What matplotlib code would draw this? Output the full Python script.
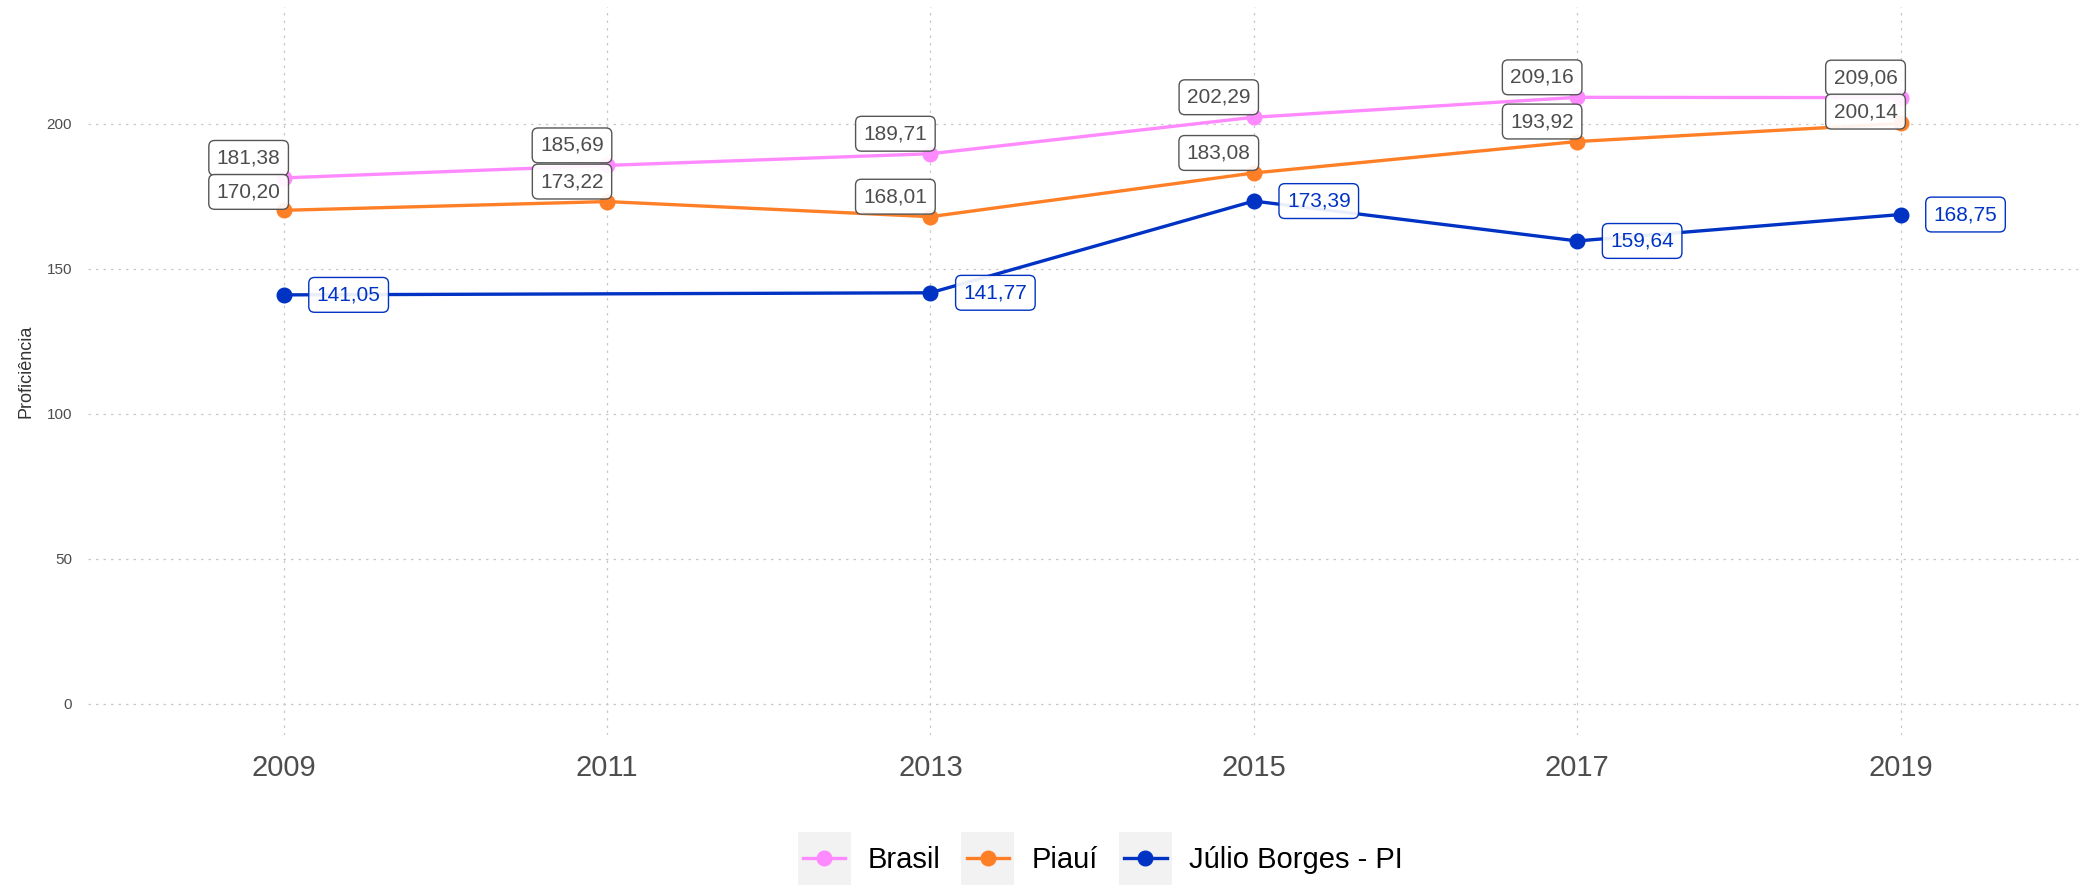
import numpy as np
import matplotlib.pyplot as plt
from matplotlib.legend_handler import HandlerBase
from matplotlib.patches import Rectangle
from matplotlib.lines import Line2D

plt.rcParams['font.family'] = ['Liberation Sans', 'DejaVu Sans']

# dados
anos = [2009, 2011, 2013, 2015, 2017, 2019]
brasil = [181.38, 185.69, 189.71, 202.29, 209.16, 209.06]
piaui = [170.20, 173.22, 168.01, 183.08, 193.92, 200.14]
anos_julio = [2009, 2013, 2015, 2017, 2019]
julio = [141.05, 141.77, 173.39, 159.64, 168.75]

cor_brasil = '#ff8aff'
cor_piaui = '#ff7f27'
cor_julio = '#0033c4'
cinza = '#4d4d4d'


def fmt(v):
    return f'{v:.2f}'.replace('.', ',')


class KeyHandler(HandlerBase):
    # caixa cinza atras da linha + ponto, estilo ggplot
    def create_artists(self, legend, orig_handle, xdescent, ydescent,
                       width, height, fontsize, trans):
        cx = width / 2 - xdescent
        cy = height / 2 - ydescent
        side = width
        rect = Rectangle((cx - side / 2, cy - side / 2), side, side,
                         fc='#f2f2f2', ec='none', transform=trans)
        line = Line2D([cx - side * 0.4, cx + side * 0.4], [cy, cy],
                      color=orig_handle.get_color(), lw=orig_handle.get_linewidth(),
                      transform=trans)
        dot = Line2D([cx], [cy], marker='o', ms=orig_handle.get_markersize(),
                     color=orig_handle.get_color(), lw=0, transform=trans)
        return [rect, line, dot]


fig = plt.figure(figsize=(20.8, 8.86), dpi=100)
ax = fig.add_axes([0.0423, 0.1704, 0.9577, 0.8217])

l1, = ax.plot(anos, brasil, color=cor_brasil, lw=2.4, marker='o', ms=10.5, label='Brasil')
l2, = ax.plot(anos, piaui, color=cor_piaui, lw=2.4, marker='o', ms=10.5, label='Piauí')
l3, = ax.plot(anos_julio, julio, color=cor_julio, lw=2.4, marker='o', ms=10.5,
              label='Júlio Borges - PI')

ax.set_xlim(2007.79, 2020.11)
ax.set_ylim(-10.7, 240.3)
ax.set_xticks(anos)
ax.set_yticks([0, 50, 100, 150, 200])
ax.tick_params(axis='x', length=0, pad=14, labelsize=21, labelcolor=cinza)
ax.tick_params(axis='y', length=0, pad=11.5, labelsize=11, labelcolor=cinza)
for s in ax.spines.values():
    s.set_visible(False)
ax.grid(True, color='#c8c8c8', lw=0.9, linestyle=(0, (2, 4)))
ax.set_axisbelow(True)
ax.set_ylabel('Proficiência', fontsize=13, color='#333333', labelpad=9)

caixa = dict(boxstyle='round,pad=0.38,rounding_size=0.28', fc=(1, 1, 1, 0.92),
             ec='#555555', lw=1.0)

# rotulos Brasil / Piaui acima e a esquerda do ponto
for i, ano in enumerate(anos):
    pb = ax.transData.transform((ano, brasil[i]))
    pp = ax.transData.transform((ano, piaui[i]))
    cb = pb[1] + 20
    cp = pp[1] + 20
    if cb - cp < 34:
        cp = cb - 34
    ax.annotate(fmt(brasil[i]), (ano, brasil[i]), xytext=(-35, cb - pb[1]),
                textcoords='offset pixels', ha='center', va='center',
                fontsize=15, color=cinza, bbox=caixa, zorder=5)
    ax.annotate(fmt(piaui[i]), (ano, piaui[i]), xytext=(-35, cp - pp[1]),
                textcoords='offset pixels', ha='center', va='center',
                fontsize=15, color=cinza, bbox=caixa, zorder=5)

caixa_j = dict(caixa, ec=cor_julio)
for ano, v in zip(anos_julio, julio):
    ax.annotate(fmt(v), (ano, v), xytext=(65, 0), textcoords='offset pixels',
                ha='center', va='center', fontsize=15, color=cor_julio,
                bbox=caixa_j, zorder=5)

fig.legend(handles=[l1, l2, l3], loc='center', bbox_to_anchor=(0.529, 0.029),
           ncol=3, frameon=False, fontsize=21, handlelength=1.82,
           handletextpad=0.6, columnspacing=0.7,
           handler_map={Line2D: KeyHandler()})

plt.savefig('out.png', dpi=100)
